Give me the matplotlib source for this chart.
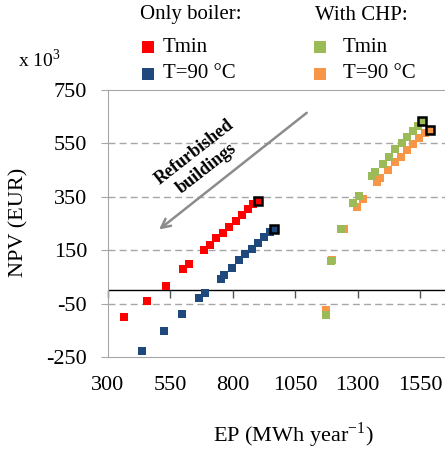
import numpy as np
import matplotlib.pyplot as plt
from matplotlib.lines import Line2D

plt.rcParams['font.family'] = ['Liberation Serif', 'DejaVu Serif']
plt.rcParams['axes.unicode_minus'] = False

# only boiler, Tmin
ep_boiler_tmin = [363, 457, 532, 602, 623, 685, 709, 733, 762, 786, 812, 838, 862, 882, 902]
npv_boiler_tmin = [-102, -42, 15, 78, 97, 150, 169, 194, 216, 237, 260, 282, 304, 322, 334]
# only boiler, T=90 C
ep_boiler_t90 = [437, 524, 598, 663, 690, 752, 765, 796, 826, 849, 876, 900, 925, 949, 966]
npv_boiler_t90 = [-226, -151, -89, -30, -10, 44, 56, 85, 112, 135, 156, 177, 200, 219, 229]
# with CHP, Tmin
ep_chp_tmin = [1172, 1193, 1235, 1283, 1306, 1357, 1370, 1401, 1427, 1450, 1477, 1499, 1523, 1543, 1557]
npv_chp_tmin = [-91, 109, 228, 325, 354, 427, 444, 471, 500, 528, 552, 573, 596, 616, 634]
# with CHP, T=90 C
ep_chp_t90 = [1173, 1199, 1245, 1299, 1323, 1377, 1390, 1423, 1450, 1474, 1497, 1520, 1547, 1570, 1590]
npv_chp_t90 = [-75, 115, 228, 312, 340, 406, 421, 450, 479, 500, 525, 546, 569, 588, 600]

x_ticks = [300, 550, 800, 1050, 1300, 1550]
y_ticks = [-250, -50, 150, 350, 550, 750]

c_red = '#FF0000'
c_blue = '#1F497D'
c_green = '#9BBB59'
c_orange = '#F79646'
c_grey = '#A6A6A6'

fig = plt.figure(figsize=(4.45, 4.5), dpi=100)
ax = fig.add_axes([108/445, 1-357/450, 374.4/445, 267/450])

series = [(ep_boiler_tmin, npv_boiler_tmin, c_red),
          (ep_boiler_t90, npv_boiler_t90, c_blue),
          (ep_chp_t90, npv_chp_t90, c_orange),
          (ep_chp_tmin, npv_chp_tmin, c_green)]
for xs, ys, col in series:
    ax.plot(xs[:-1], ys[:-1], ls='none', marker='s', ms=5.5, color=col, mew=0, zorder=3)
    # last one (original building) outlined in black
    ax.plot(xs[-1:], ys[-1:], ls='none', marker='s', ms=6, color=col, mec='black', mew=1.8, zorder=4)

ax.set_xlim(300, 1800)
ax.set_ylim(-250, 750)
ax.set_xticks(x_ticks)
ax.set_yticks(y_ticks)
ax.tick_params(axis='x', length=0, pad=14, labelsize=16)
ax.tick_params(axis='y', length=5, color=c_grey, pad=10, labelsize=16)

for s in ['top', 'bottom', 'left']:
    ax.spines[s].set_color(c_grey)
ax.spines['right'].set_visible(False)
for yv in [-50, 150, 350, 550]:
    ax.axhline(yv, color=c_grey, lw=1, ls=(0, (5, 3)), zorder=1)

# horizontal axis through zero with its own tick marks
ax.axhline(0, color='black', lw=1, zorder=2)
ax.plot(x_ticks, np.zeros(len(x_ticks)), ls='none', marker=3, ms=6, mew=1,
        color='#555555', clip_on=False, zorder=2)

fig.text(293/445, 1-435/450, 'EP (MWh year$^{\\mathregular{-1}}$)', ha='center', va='center', fontsize=16)
fig.text(19/445, 1-222/450, 'NPV (EUR)', rotation=90, ha='center', va='center', fontsize=16)
fig.text(18/445, 1-60/450, 'x 10$^{\\mathregular{3}}$', ha='left', va='center', fontsize=14)

# arrow and annotation
ax.annotate('', xy=(496, 221), xytext=(1105, 671),
            arrowprops=dict(arrowstyle='->', color='#8C8C8C', lw=1.8, mutation_scale=16))
ax.text(669, 487, 'Refurbished\nbuildings', rotation=38, rotation_mode='anchor',
        ha='center', va='center', multialignment='center', fontsize=13, fontweight='bold')

# legend built by hand
fig.text(140/445, 1-15/450, 'Only boiler:', ha='left', va='center', fontsize=15)
fig.text(315/445, 1-15/450, 'With CHP:', ha='left', va='center', fontsize=15)
legend_rows = [(148, 47, c_red, 'Tmin', 163), (148, 74, c_blue, 'T=90 °C', 163),
               (320, 47, c_green, 'Tmin', 343), (320, 74, c_orange, 'T=90 °C', 343)]
for mx, my, col, lab, tx in legend_rows:
    fig.add_artist(Line2D([mx/445], [1-my/450], transform=fig.transFigure, ls='none',
                          marker='s', ms=9, color=col, mew=0))
    fig.text(tx/445, 1-my/450, lab, ha='left', va='center', fontsize=15)

fig.savefig('out.png', dpi=100)
